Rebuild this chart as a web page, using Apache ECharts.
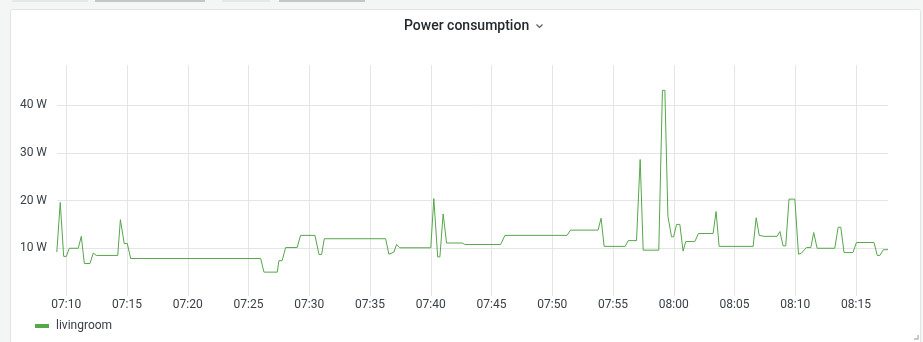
<!DOCTYPE html>
<html><head><meta charset="utf-8">
<script src="https://cdn.jsdelivr.net/npm/echarts@6/dist/echarts.min.js"></script>
<style>html,body{margin:0;padding:0;background:#f4f5f5;}#c{width:923px;height:342px;}</style>
</head><body><div id="c"></div>
<script>
const day = '2024-01-01 ';
const times = ['07:09:13','07:09:30','07:09:47','07:10:00','07:10:15','07:10:59','07:11:14','07:11:29','07:11:57','07:12:13',
'07:12:28','07:14:14','07:14:27','07:14:46','07:15:01','07:15:18','07:26:00','07:26:16','07:27:22','07:27:30',
'07:27:46','07:28:03','07:29:00','07:29:17','07:30:28','07:30:48','07:31:01','07:31:14','07:36:17','07:36:33',
'07:36:58','07:37:11','07:37:27','07:40:00','07:40:15','07:40:34','07:40:45','07:41:01','07:41:18','07:42:35',
'07:42:48','07:45:45','07:46:06','07:51:13','07:51:30','07:53:46','07:54:01','07:54:16','07:56:00','07:56:15',
'07:56:56','07:57:14','07:57:29','07:58:46','07:59:04','07:59:16','07:59:31','07:59:49','07:59:59','08:00:14',
'08:00:30','08:00:46','08:00:59','08:01:44','08:02:02','08:03:14','08:03:29','08:03:44','08:06:32','08:06:47',
'08:07:02','08:07:25','08:08:30','08:08:44','08:09:00','08:09:13','08:09:29','08:09:58','08:10:16','08:10:31',
'08:10:55','08:11:17','08:11:31','08:11:48','08:13:15','08:13:32','08:13:45','08:14:01','08:14:45','08:15:02',
'08:16:29','08:16:45','08:16:58','08:17:15','08:17:38'];
const livingroom = [9.2,19.6,8.3,8.3,10,10,12.5,6.8,6.8,9.0,
8.5,8.5,16.0,11.0,11.0,7.85,7.85,5.0,5.0,7.4,
7.4,10.15,10.15,12.7,12.7,8.7,8.7,12.0,12.0,8.75,
9.2,10.8,10.1,10.1,20.4,8.2,8.2,17.2,11.1,11.1,
10.8,10.8,12.7,12.7,13.8,13.8,16.3,10.4,10.4,11.6,
11.6,28.6,9.6,9.6,43.1,43.1,16.7,12.4,12.4,15.0,
15.0,9.4,11.4,11.4,13.1,13.1,17.7,10.4,10.4,16.4,
12.7,12.5,12.5,13.5,10.5,10.5,20.3,20.3,8.75,9.0,
10.15,10.15,13.3,10.0,10.0,14.4,14.4,9.1,9.1,11.2,
11.2,8.5,8.5,9.7,9.7];
const xTickLabels = ['07:10','07:15','07:20','07:25','07:30','07:35','07:40','07:45','07:50','07:55','08:00','08:05','08:10','08:15'];
const yTicks = [10, 20, 30, 40];
const seriesName = 'livingroom';
const titleText = 'Power consumption';
const xStart = '07:09:14', xEnd = '08:17:38';
const yMax = 48.4;

// seconds since midnight
const toSec = s => { const p = s.split(':').map(Number); return p[0] * 3600 + p[1] * 60 + (p[2] || 0); };
const chart = echarts.init(document.getElementById('c'));
const data = times.map((t, i) => [toSec(t), livingroom[i]]);
const xTickVals = xTickLabels.map(toSec);
const pad = n => (n < 10 ? '0' : '') + n;
const fmt = v => pad(Math.floor(v / 3600)) + ':' + pad(Math.floor((v % 3600) / 60));
const font = 'Roboto';
chart.setOption({
  backgroundColor: '#f4f5f5',
  animation: false,
  textStyle: {fontFamily: font},
  graphic: [
    {type: 'rect', z: -10, shape: {x: 10.5, y: 9.5, width: 910, height: 340, r: 2},
     style: {fill: '#ffffff', stroke: '#e2e3e4', lineWidth: 1}},
    {type: 'rect', z: -10, shape: {x: 12, y: 0, width: 76, height: 2}, style: {fill: '#e6e7e8'}},
    {type: 'rect', z: -10, shape: {x: 95, y: 0, width: 110, height: 2}, style: {fill: '#c4c6c8'}},
    {type: 'rect', z: -10, shape: {x: 222, y: 0, width: 48, height: 2}, style: {fill: '#e6e7e8'}},
    {type: 'rect', z: -10, shape: {x: 279, y: 0, width: 86, height: 2}, style: {fill: '#c4c6c8'}},
    {type: 'polyline', shape: {points: [[536.5, 24.5], [539.5, 27.5], [542.5, 24.5]]},
     style: {stroke: '#555b62', lineWidth: 1.2, fill: null}},
    {type: 'polyline', shape: {points: [[914, 339], [918, 339], [918, 335]]},
     style: {stroke: '#b8babd', lineWidth: 1.5, fill: null}}
  ],
  title: {
    text: titleText, left: 404, top: 19, padding: 0,
    textStyle: {fontFamily: font, fontSize: 14, fontWeight: 500, color: '#24292e'}
  },
  legend: {
    data: [seriesName], left: 30, top: 315, icon: 'rect', itemWidth: 14, itemHeight: 4,
    textStyle: {fontFamily: font, fontSize: 12, color: '#3a4047', padding: [0, 0, 0, 2]}
  },
  grid: {left: 57, right: 35, top: 65, bottom: 46},
  xAxis: {
    type: 'value', min: toSec(xStart), max: toSec(xEnd),
    axisLine: {show: false},
    axisTick: {show: false, customValues: xTickVals},
    axisLabel: {
      customValues: xTickVals, formatter: fmt,
      color: '#3a4047', fontSize: 12, margin: 3, fontFamily: font
    },
    splitLine: {show: true, lineStyle: {color: '#e4e5e6', width: 1}}
  },
  yAxis: {
    type: 'value', min: 0, max: yMax, interval: 10,
    axisLine: {show: false}, axisTick: {show: false},
    axisLabel: {formatter: v => (yTicks.indexOf(v) >= 0 ? v + ' W' : ''), showMaxLabel: false,
      color: '#3a4047', fontSize: 12, margin: 10, fontFamily: font},
    splitLine: {show: true, showMinLine: false, showMaxLine: false, lineStyle: {color: '#e4e5e6', width: 1}}
  },
  series: [{
    name: seriesName, type: 'line', data: data, showSymbol: false, symbol: 'none',
    color: '#56A64B', lineStyle: {width: 1, color: '#56A64B'}
  }]
});
</script></body></html>
